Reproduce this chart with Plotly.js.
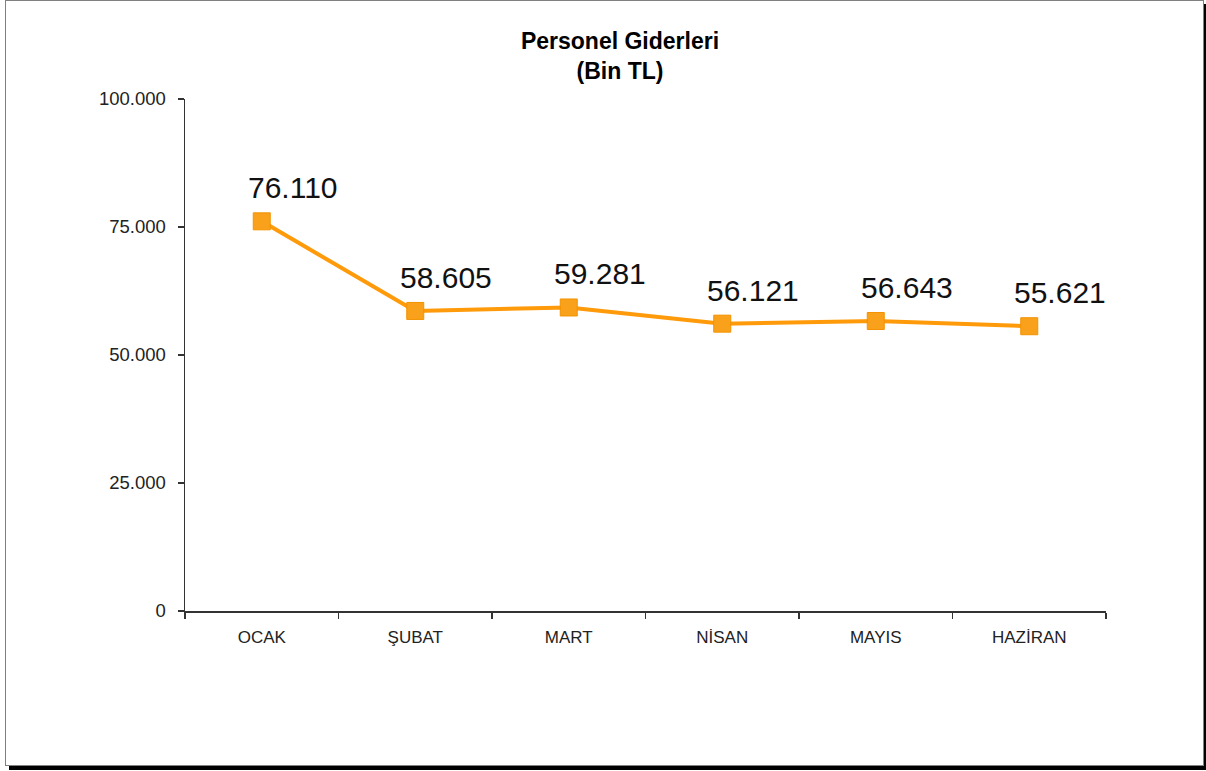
<!DOCTYPE html>
<html>
<head>
<meta charset="utf-8">
<script src="https://cdn.plot.ly/plotly-3.0.1.min.js"></script>
<style>
  html, body { margin: 0; padding: 0; background: #ffffff; }
  #frame { position: absolute; left: 5px; top: 0px; width: 1197px; height: 764px;
           border: 1.5px solid #808080; box-shadow: 4px 4px 0 #000000; background: #fff; }
  #chart { position: absolute; left: 0; top: 0; width: 1206px; height: 771px; }
</style>
</head>
<body>
<div id="frame"></div>
<div id="chart"></div>
<script>
const months = ["OCAK", "ŞUBAT", "MART", "NİSAN", "MAYIS", "HAZİRAN"];
const values = [76110, 58605, 59281, 56121, 56643, 55621];
const labels = ["76.110", "58.605", "59.281", "56.121", "56.643", "55.621"];
const yTicks = [0, 25000, 50000, 75000, 100000];
const yTickText = ["0", "25.000", "50.000", "75.000", "100.000"];

const trace = {
  x: months,
  y: values,
  type: "scatter",
  mode: "lines+markers",
  line: { color: "#FF9A0A", width: 4 },
  marker: { symbol: "square", size: 17, color: "#F9A11B", line: { color: "#F39200", width: 1 } },
  hoverinfo: "skip",
  cliponaxis: false
};

const annotations = months.map((m, i) => ({
  x: m, y: values[i], xref: "x", yref: "y",
  text: labels[i], showarrow: false,
  xanchor: "center", yanchor: "bottom",
  xshift: 31, yshift: 15,
  font: { family: "Liberation Sans, Arial, sans-serif", size: 30, color: "#111111" }
}));

const layout = {
  width: 1206, height: 771,
  margin: { l: 185, r: 100, t: 99, b: 160 },
  paper_bgcolor: "rgba(0,0,0,0)",
  plot_bgcolor: "rgba(0,0,0,0)",
  showlegend: false,
  title: {
    text: "<b>Personel Giderleri</b><br><b>(Bin TL)</b>",
    x: 620 / 1206, xanchor: "center", xref: "container",
    y: 0.936, yanchor: "top", yref: "container",
    font: { family: "Liberation Sans, Arial, sans-serif", size: 23, color: "#000000" }
  },
  xaxis: {
    type: "category",
    range: [-0.5, 5.5],
    tickson: "boundaries",
    ticks: "outside", ticklen: 6, tickcolor: "#333333", tickwidth: 1.5,
    ticklabelstandoff: 10,
    showline: true, linecolor: "#333333", linewidth: 1.5,
    showgrid: false, zeroline: false,
    tickfont: { family: "Liberation Sans, Arial, sans-serif", size: 17, color: "#222222" },
    fixedrange: true
  },
  yaxis: {
    range: [0, 100000],
    tickvals: yTicks, ticktext: yTickText,
    ticks: "outside", ticklen: 6, tickcolor: "#333333", tickwidth: 1.5,
    ticklabelstandoff: 8,
    showline: true, linecolor: "#333333", linewidth: 1.5,
    showgrid: false, zeroline: false,
    tickfont: { family: "Liberation Sans, Arial, sans-serif", size: 18.5, color: "#222222" },
    fixedrange: true
  },
  annotations: annotations
};

Plotly.newPlot("chart", [trace], layout, { displayModeBar: false, staticPlot: true });
</script>
</body>
</html>
